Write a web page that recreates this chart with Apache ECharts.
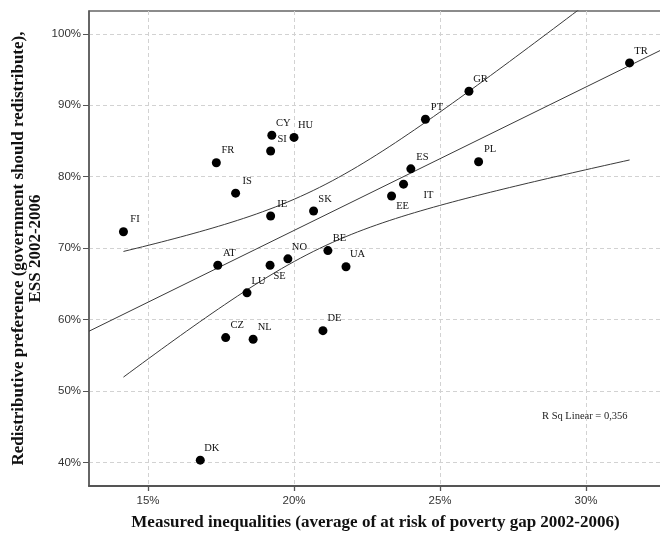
<!DOCTYPE html>
<html>
<head>
<meta charset="utf-8">
<script src="https://cdn.jsdelivr.net/npm/echarts@6/dist/echarts.min.js"></script>
<style>
  html, body { margin: 0; padding: 0; background: #fff; }
  #chart { width: 660px; height: 536px; }
</style>
</head>
<body>
<div id="chart"></div>
<script>
// Country codes and their values (x: at-risk-of-poverty gap, y: share favouring redistribution), in %
const countries = ['FI','FR','CY','HU','SI','IS','IE','SK','AT','NO','SE','LU','CZ','NL','DE','DK','BE','UA','EE','IT','ES','PL','PT','GR','TR'];
const povertyGap = [14.16, 17.34, 19.24, 20.0, 19.2, 18.0, 19.2, 20.67, 17.39, 19.79, 19.18, 18.39, 17.66, 18.6, 20.99, 16.79, 21.16, 21.78, 23.34, 23.75, 24.0, 26.32, 24.5, 25.99, 31.49];
const redistPref = [72.3, 81.96, 85.8, 85.5, 83.6, 77.7, 74.5, 75.2, 67.6, 68.5, 67.6, 63.74, 57.48, 57.25, 58.45, 40.32, 69.66, 67.4, 77.3, 78.96, 81.1, 82.1, 88.04, 91.96, 95.93];

// Tick labels
const xTicks = [15, 20, 25, 30];
const yTicks = [40, 50, 60, 70, 80, 90, 100];
const rSquaredText = 'R Sq Linear = 0,356';

// Label placement (pixel offset of label centre from the dot)
const defaultLabelOffset = [11.5, -12];
const labelOffsets = { SE: [9.5, 11], EE: [11, 10], IT: [25, 11] };

const X_MIN = 12.98, X_MAX = 32.6, Y_MIN = 36.7, Y_MAX = 103.2;

// Ordinary least squares fit with 95% confidence band for the mean
const n = povertyGap.length;
const mx = povertyGap.reduce((a, b) => a + b, 0) / n;
const my = redistPref.reduce((a, b) => a + b, 0) / n;
let sxx = 0, sxy = 0, syy = 0;
for (let i = 0; i < n; i++) {
  const dx = povertyGap[i] - mx, dy = redistPref[i] - my;
  sxx += dx * dx; sxy += dx * dy; syy += dy * dy;
}
const slope = sxy / sxx;
const intercept = my - slope * mx;
const s = Math.sqrt((syy - sxy * sxy / sxx) / (n - 2));
const tCrit = 2.069; // t(0.975, df = 23)
const fit = x => intercept + slope * x;
const halfWidth = x => tCrit * s * Math.sqrt(1 / n + (x - mx) * (x - mx) / sxx);

const fitLine = [[X_MIN, fit(X_MIN)], [X_MAX, fit(X_MAX)]];
const xLo = Math.min(...povertyGap), xHi = Math.max(...povertyGap);
const upperBand = [], lowerBand = [];
const steps = 80;
for (let k = 0; k <= steps; k++) {
  const x = xLo + (xHi - xLo) * k / steps;
  upperBand.push([x, fit(x) + halfWidth(x)]);
  lowerBand.push([x, fit(x) - halfWidth(x)]);
}

const points = countries.map((c, i) => ({
  value: [povertyGap[i], redistPref[i]],
  name: c,
  label: { offset: labelOffsets[c] || defaultLabelOffset }
}));

const serif = '"Liberation Serif", "DejaVu Serif", serif';
const sans = '"Liberation Sans", Arial, sans-serif';
const lineStyle = { color: '#3a3a3a', width: 1 };

const chart = echarts.init(document.getElementById('chart'), null, { renderer: 'canvas' });
chart.setOption({
  animation: false,
  backgroundColor: '#fff',
  grid: {
    left: 89, right: -2, top: 11, bottom: 50,
    show: true, borderColor: '#666', borderWidth: 1.3,
    containLabel: false, outerBoundsMode: 'none'
  },
  xAxis: {
    type: 'value', min: X_MIN, max: X_MAX,
    name: 'Measured inequalities (average of at risk of poverty gap 2002-2006)',
    nameLocation: 'middle', nameGap: 28, nameMoveOverlap: false,
    nameTextStyle: { fontFamily: serif, fontWeight: 'bold', fontSize: 17, color: '#111' },
    axisLine: { show: true, lineStyle: { color: '#555', width: 2 } },
    axisTick: { show: true, customValues: xTicks, length: 5, lineStyle: { color: '#555', width: 1.3 } },
    axisLabel: { customValues: xTicks, formatter: v => v + '%', fontFamily: sans, fontSize: 11.5, color: '#333', margin: 9 },
    splitLine: { show: true, lineStyle: { color: '#d2d2d2', type: [4, 3], width: 1 } }
  },
  yAxis: {
    type: 'value', min: Y_MIN, max: Y_MAX,
    name: 'Redistributive preference (government should redistribute),\nESS 2002-2006',
    nameLocation: 'middle', nameRotate: 90, nameGap: 45, nameMoveOverlap: false,
    nameTextStyle: { fontFamily: serif, fontWeight: 'bold', fontSize: 17, color: '#111', lineHeight: 17, align: 'center' },
    axisLine: { show: true, lineStyle: { color: '#555', width: 1.5 } },
    axisTick: { show: true, customValues: yTicks, length: 6, lineStyle: { color: '#555', width: 1 } },
    axisLabel: { customValues: yTicks, formatter: v => v + '%', fontFamily: sans, fontSize: 11.5, color: '#333', margin: 8 },
    splitLine: { show: true, lineStyle: { color: '#d2d2d2', type: [4, 3], width: 1 } }
  },
  graphic: [{
    type: 'text', left: 542, top: 411,
    style: { text: rSquaredText, font: '10.5px ' + serif, fill: '#222' }
  }],
  series: [
    { type: 'line', data: fitLine, showSymbol: false, lineStyle: lineStyle, silent: true, z: 2 },
    { type: 'line', data: upperBand, showSymbol: false, lineStyle: lineStyle, silent: true, z: 2 },
    { type: 'line', data: lowerBand, showSymbol: false, lineStyle: lineStyle, silent: true, z: 2 },
    {
      type: 'scatter', data: points, symbolSize: 9, z: 3,
      itemStyle: { color: '#000', opacity: 1 },
      label: {
        show: true, position: 'inside', formatter: p => p.name,
        fontFamily: serif, fontSize: 10.5, color: '#111',
        align: 'center', verticalAlign: 'middle'
      }
    }
  ]
});
</script>
</body>
</html>
